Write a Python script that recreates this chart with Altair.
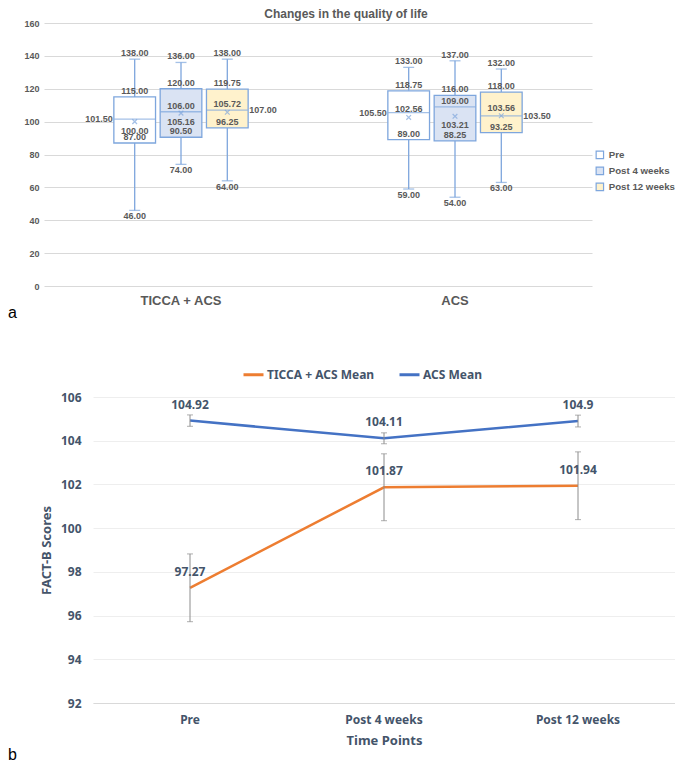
import altair as alt
import pandas as pd

# ---------------- data: panel a (box plots) ----------------
groups = ["TICCA + ACS", "ACS"]
series = ["Pre", "Post 4 weeks", "Post 12 weeks"]
# order: TICCA+ACS Pre, Post 4, Post 12, ACS Pre, Post 4, Post 12
box_min = [46.0, 74.0, 64.0, 59.0, 54.0, 63.0]
box_q1 = [87.0, 90.5, 96.25, 89.0, 88.25, 93.25]
box_median = [101.5, 106.0, 107.0, 105.5, 109.0, 103.5]
box_q3 = [115.0, 120.0, 119.75, 118.75, 116.0, 118.0]
box_max = [138.0, 136.0, 138.0, 133.0, 137.0, 132.0]
box_mean = [100.00, 105.16, 105.72, 102.56, 103.21, 103.56]

# ---------------- data: panel b (means with error bars) ----------------
time_points = ["Pre", "Post 4 weeks", "Post 12 weeks"]
line_series = ["TICCA + ACS Mean", "ACS Mean"]
ticca_mean = [97.27, 101.87, 101.94]
ticca_err = [1.55, 1.53, 1.55]
acs_mean = [104.92, 104.11, 104.9]
acs_err = [0.26, 0.25, 0.27]

# label placement for the mean values (which side of the marker)
MEAN_ABOVE = {("TICCA + ACS", "Post 12 weeks"), ("ACS", "Pre"), ("ACS", "Post 12 weeks")}

rows = []
k = 0
for g in groups:
    for s in series:
        rows.append(dict(group=g, series=s, min=box_min[k], q1=box_q1[k],
                         median=box_median[k], q3=box_q3[k], max=box_max[k],
                         mean=box_mean[k],
                         mean_pos="above" if (g, s) in MEAN_ABOVE else "below"))
        k += 1
box_df = pd.DataFrame(rows)

BLUE = "#7ea6dd"
GREY = "#595959"
FONT_A = "Liberation Sans"

# panel a shares its left origin with panel b, so its frame is shifted left
SHIFT = 49

X = alt.X("group:N", sort=groups,
          scale=alt.Scale(domain=groups, paddingInner=0.493, paddingOuter=0.2465,
                          range=[-SHIFT, 548 - SHIFT]),
          axis=alt.Axis(title=None, labelAngle=0, ticks=False, domain=False,
                        labelFontSize=13, labelFontWeight="bold", labelColor=GREY,
                        labelFont=FONT_A, labelPadding=8))
XO = alt.XOffset("series:N", sort=series,
                 scale=alt.Scale(domain=series, paddingInner=0.1, paddingOuter=0.05))

base = alt.Chart(box_df).encode(x=X, xOffset=XO)

y_axis = alt.Axis(title=None, values=list(range(0, 161, 20)), ticks=False, domain=False,
                  gridColor="#d9d9d9", labelFontSize=9, labelFontWeight="bold",
                  labelColor=GREY, labelFont=FONT_A, labelPadding=5, offset=SHIFT)


def Yq(field):
    return alt.Y(f"{field}:Q", scale=alt.Scale(domain=[0, 160]), axis=y_axis)


fill = alt.Fill("series:N", sort=series,
                scale=alt.Scale(domain=series, range=["#ffffff", "#dae3f3", "#fff2cc"]),
                legend=alt.Legend(title=None, orient="none", legendX=551 - SHIFT, legendY=127,
                                  symbolType="square", symbolSize=55,
                                  symbolStrokeColor=BLUE, symbolStrokeWidth=1.2,
                                  labelFontSize=9.7, labelFontWeight="bold",
                                  labelColor=GREY, labelFont=FONT_A,
                                  labelOffset=4, rowPadding=3))

boxes = base.mark_bar(stroke=BLUE, strokeWidth=1.3).encode(y=Yq("q1"), y2="q3:Q", fill=fill)
wlo = base.mark_rule(color=BLUE, strokeWidth=1.3).encode(y=Yq("min"), y2="q1:Q")
whi = base.mark_rule(color=BLUE, strokeWidth=1.3).encode(y=Yq("q3"), y2="max:Q")
cap_lo = base.mark_tick(color=BLUE, size=11, thickness=1.3).encode(y=Yq("min"))
cap_hi = base.mark_tick(color=BLUE, size=11, thickness=1.3).encode(y=Yq("max"))
med = base.mark_tick(color=BLUE, size=41, thickness=1.4).encode(y=Yq("median"))
mean_mark = base.mark_point(shape="M-1,-1L1,1M-1,1L1,-1", size=22, filled=False,
                            color=BLUE, strokeWidth=1.2).encode(y=Yq("mean"))


def lbl(field, dy=0, dx=0, align="center", filt=None):
    c = base.mark_text(fontSize=9, fontWeight="bold", color=GREY, font=FONT_A,
                       dy=dy, dx=dx, align=align, baseline="middle")
    if filt is not None:
        c = c.transform_filter(filt)
    return c.encode(y=Yq(field), text=alt.Text(f"{field}:Q", format=".2f"))


labels = [
    lbl("max", dy=-6),
    lbl("min", dy=6),
    lbl("q3", dy=-6),
    lbl("q1", dy=-6),
    lbl("median", dx=-22, align="right", filt=alt.datum.series == "Pre"),
    lbl("median", dy=-6, filt=alt.datum.series == "Post 4 weeks"),
    lbl("median", dx=22, align="left", filt=alt.datum.series == "Post 12 weeks"),
    lbl("mean", dy=-8, filt=alt.datum.mean_pos == "above"),
    lbl("mean", dy=9, filt=alt.datum.mean_pos == "below"),
]

tag_a = alt.Chart(pd.DataFrame({"t": ["a"]})).mark_text(
    align="left", baseline="middle", fontSize=16, font=FONT_A, color="#000000"
).encode(x=alt.value(-85), y=alt.value(290), text="t:N")

top = alt.layer(wlo, whi, boxes, med, mean_mark, cap_lo, cap_hi, *labels, tag_a).properties(
    width=548, height=263,
    title=alt.TitleParams("Changes in the quality of life", fontSize=12, font=FONT_A,
                          fontWeight="bold", color=GREY, anchor="middle", dx=-21, offset=-2),
)

# ---------------- panel b ----------------
lrows = []
for name, means, errs in [(line_series[0], ticca_mean, ticca_err),
                          (line_series[1], acs_mean, acs_err)]:
    for t, m, e in zip(time_points, means, errs):
        lrows.append(dict(time=t, series=name, mean=m, lo=m - e, hi=m + e, label=f"{m:g}"))
line_df = pd.DataFrame(lrows)

TXT = "#44546a"
FONT_B = "Noto Sans"

XB = alt.X("time:N", sort=time_points,
           scale=alt.Scale(domain=time_points, paddingInner=0, paddingOuter=0),
           axis=alt.Axis(title="Time Points", labelAngle=0, ticks=False,
                         domainColor="#d9d9d9", labelFontSize=12, labelFontWeight="bold",
                         labelColor=TXT, labelFont=FONT_B, labelPadding=11,
                         titleFontSize=13, titleFontWeight="bold", titleColor=TXT,
                         titleFont=FONT_B, titlePadding=9))
YB_axis = alt.Axis(title="FACT-B Scores", values=list(range(92, 107, 2)), ticks=False,
                   domain=False, gridColor="#eeeeee", labelFontSize=12,
                   labelFontWeight="bold", labelColor=TXT, labelFont=FONT_B,
                   labelPadding=12, titleFontSize=13, titleFontWeight="bold",
                   titleColor=TXT, titleFont=FONT_B, titlePadding=7)
YSC = alt.Scale(domain=[92, 106])


def Yb(field):
    return alt.Y(f"{field}:Q", scale=YSC, axis=YB_axis)


bbase = alt.Chart(line_df).encode(x=XB)
color = alt.Color("series:N", sort=line_series,
                  scale=alt.Scale(domain=line_series, range=["#ed7d31", "#4472c4"]),
                  legend=alt.Legend(title=None, orient="none", legendX=149, legendY=-34,
                                    direction="horizontal", symbolType="stroke",
                                    symbolSize=400, symbolStrokeWidth=3,
                                    labelFontSize=12, labelFontWeight="bold",
                                    labelColor=TXT, labelFont=FONT_B, labelOffset=2,
                                    columnPadding=18))

lines = bbase.mark_line(strokeWidth=2.5).encode(y=Yb("mean"), color=color)
ebar = bbase.mark_rule(color="#8c8c8c", strokeWidth=1).encode(y=Yb("lo"), y2="hi:Q")
ecap_lo = bbase.mark_tick(color="#8c8c8c", size=6, thickness=1).encode(y=Yb("lo"))
ecap_hi = bbase.mark_tick(color="#8c8c8c", size=6, thickness=1).encode(y=Yb("hi"))
vals = bbase.mark_text(fontSize=12, fontWeight="bold", color=TXT, font=FONT_B,
                       dy=-16, baseline="middle").encode(y=Yb("mean"), text="label:N")

tag_b = alt.Chart(pd.DataFrame({"t": ["b"]})).mark_text(
    align="left", baseline="middle", fontSize=16, font=FONT_A, color="#000000"
).encode(x=alt.value(-85), y=alt.value(358), text="t:N")

bottom = alt.layer(lines, ebar, ecap_lo, ecap_hi, vals, tag_b).properties(width=582, height=306)

chart = alt.concat(top, bottom, columns=1, align="none", spacing=42).resolve_legend(
    color="independent", fill="independent"
).properties(padding=0).configure_view(stroke=None)

chart.save("out.html", embed_options={"renderer": "svg", "actions": False})
